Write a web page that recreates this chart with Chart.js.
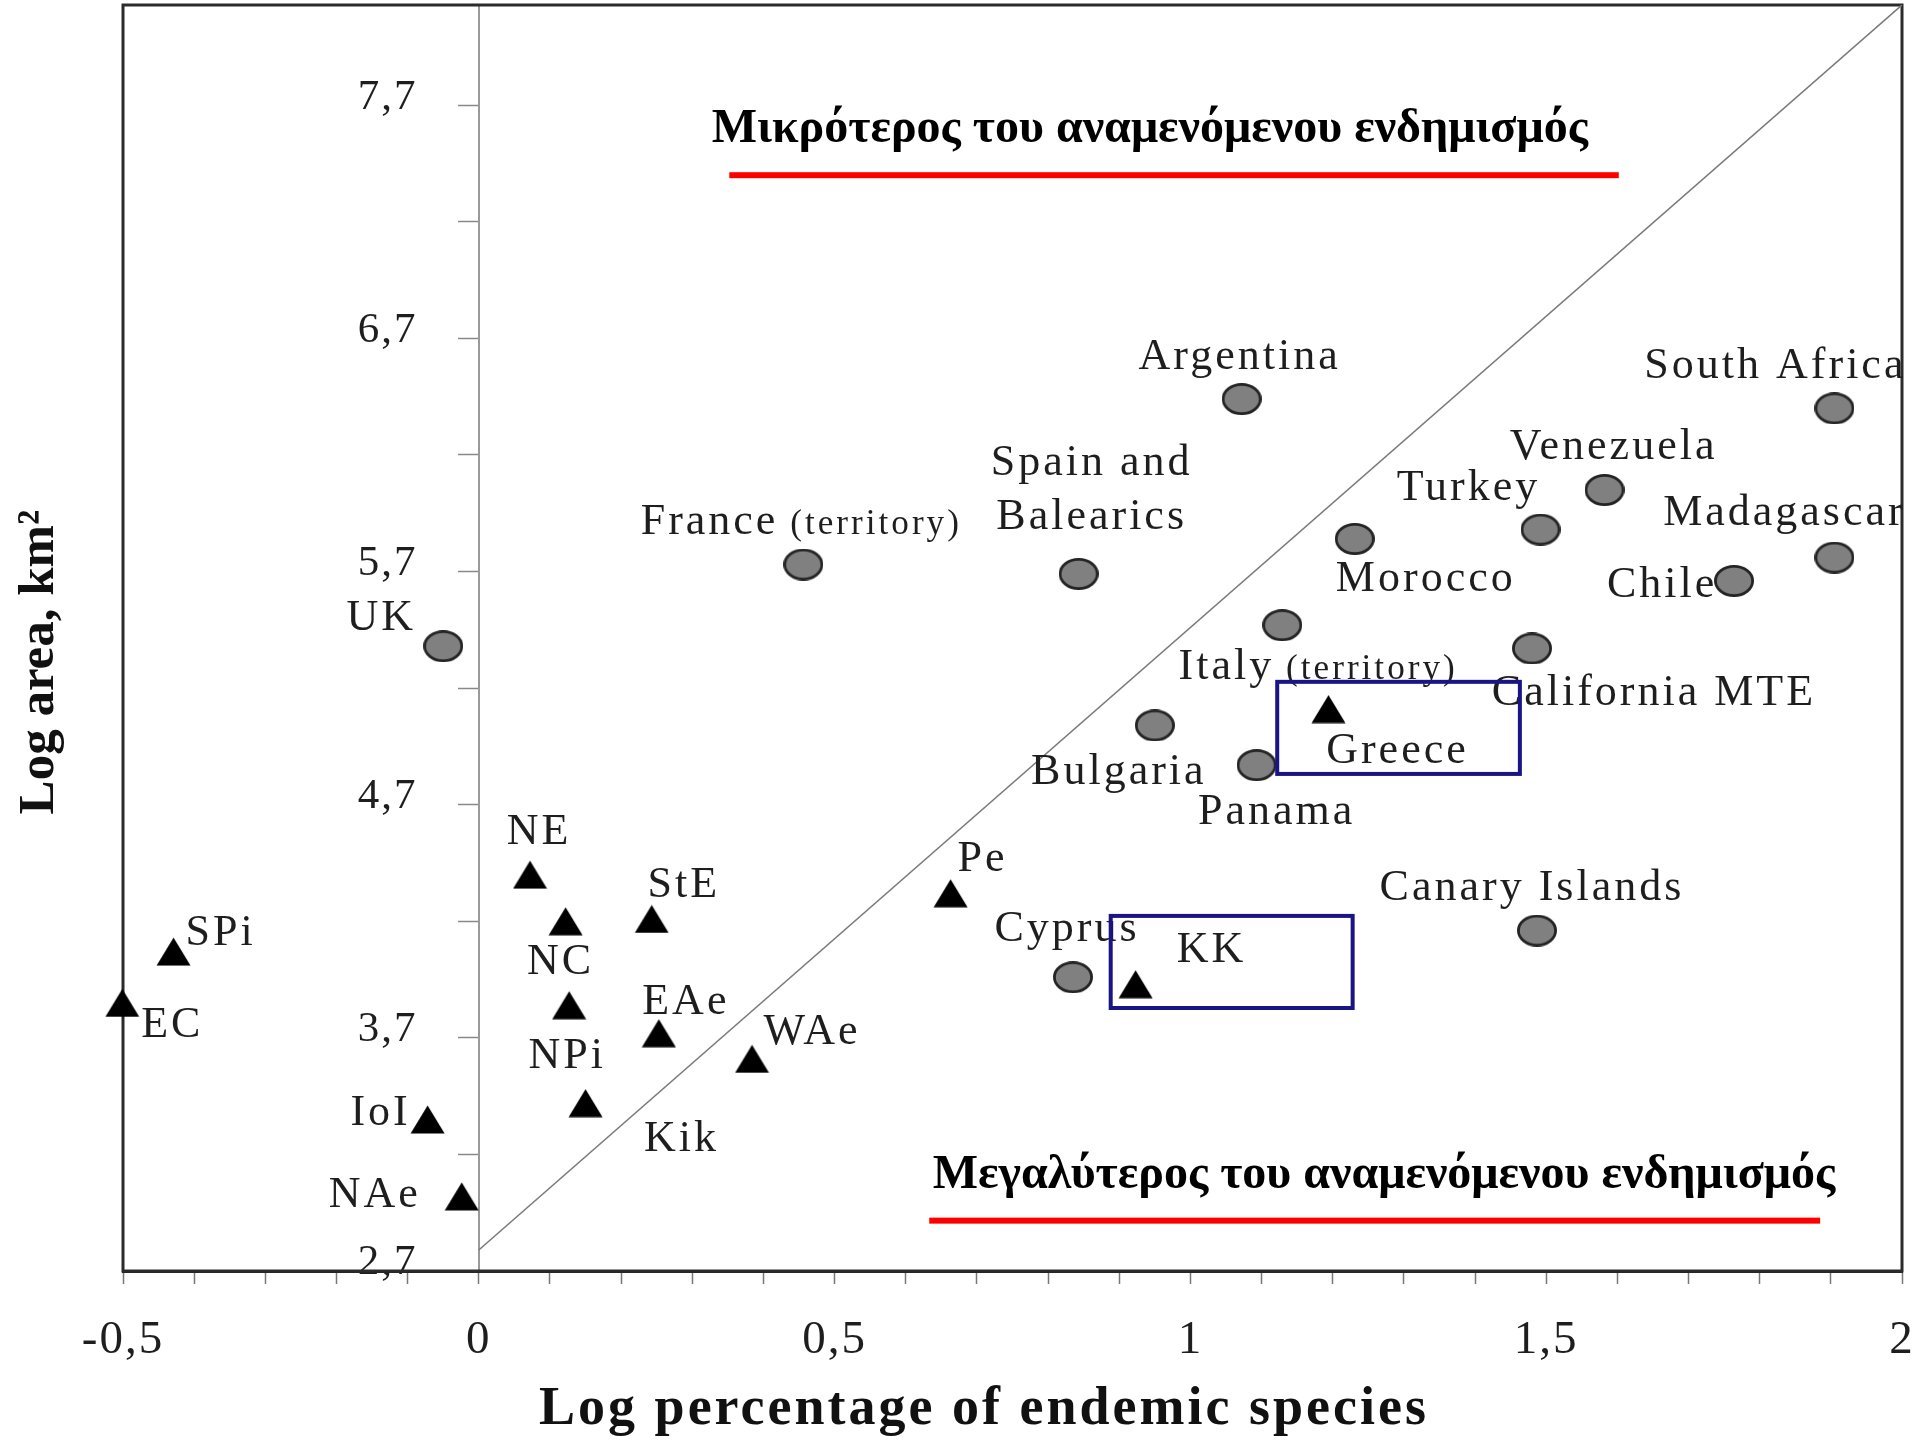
<!DOCTYPE html>
<html>
<head>
<meta charset="utf-8">
<script src="https://cdn.jsdelivr.net/npm/chart.js@4.4.1/dist/chart.umd.min.js"></script>
<style>
  html, body { margin: 0; padding: 0; background: #fff; }
  canvas { display: block; }
</style>
</head>
<body>
<canvas id="chart" width="1920" height="1440"></canvas>
<script>
// Regions of the world (grey circles)
const regionNames = ['Argentina', 'South Africa', 'Venezuela', 'Turkey', 'Morocco', 'Madagascar', 'Chile',
  'Spain and Balearics', 'France (territory)', 'UK', 'Italy (territory)', 'California MTE', 'Bulgaria',
  'Panama', 'Canary Islands', 'Cyprus'];
const regionLogEndemic = [1.072, 1.905, 1.582, 1.492, 1.231, 1.905, 1.764, 0.843, 0.456, -0.050, 1.129,
  1.480, 0.950, 1.093, 1.487, 0.835];
const regionLogArea = [6.44, 6.40, 6.05, 5.88, 5.84, 5.76, 5.66, 5.69, 5.73, 5.38, 5.47, 5.37, 5.04,
  4.87, 4.16, 3.96];

// Greek areas (black triangles)
const areaNames = ['Greece', 'KK', 'Pe', 'NE', 'NC', 'StE', 'SPi', 'EC', 'NPi', 'EAe', 'WAe', 'Kik', 'IoI', 'NAe'];
const areaLogEndemic = [1.194, 0.923, 0.663, 0.072, 0.122, 0.243, -0.429, -0.501, 0.127, 0.253, 0.384,
  0.150, -0.072, -0.024];
const areaLogArea = [5.11, 3.93, 4.32, 4.40, 4.20, 4.21, 4.07, 3.85, 3.84, 3.72, 3.61, 3.42, 3.35, 3.02];

// Expected-endemism line
const diagonalX = [0, 2];
const diagonalY = [2.79, 8.13];

// Axis ticks
const xTickValues = [-0.5, -0.4, -0.3, -0.2, -0.1, 0, 0.1, 0.2, 0.3, 0.4, 0.5, 0.6, 0.7, 0.8, 0.9, 1,
  1.1, 1.2, 1.3, 1.4, 1.5, 1.6, 1.7, 1.8, 1.9, 2];
const xLabelValues = [-0.5, 0, 0.5, 1, 1.5, 2];
const xLabelTexts = ['-0,5', '0', '0,5', '1', '1,5', '2'];
const yTickValues = [2.7, 3.2, 3.7, 4.2, 4.7, 5.2, 5.7, 6.2, 6.7, 7.2, 7.7];
const yLabelValues = [2.7, 3.7, 4.7, 5.7, 6.7, 7.7];
const yLabelTexts = ['2,7', '3,7', '4,7', '5,7', '6,7', '7,7'];

// Texts
const xTitle = 'Log percentage of endemic species';
const yTitle = 'Log area, km²';
const noteAbove = 'Μικρότερος του αναμενόμενου ενδημισμός';
const noteBelow = 'Μεγαλύτερος του αναμενόμενου ενδημισμός';

// ---- layout & style (pixels / data anchors) ----
const SERIF = '"Liberation Serif", "Times New Roman", serif';
const LABEL_SIZE = 44;
// the value axis sits at x = 0, so its labels are pushed left with trailing spacing
const Y_LABEL_GAP = '\u2003\u2009\u200A';

// label centre offsets from the marker, in px
const labelPlacement = {
  'Argentina': { dx: -2, dy: -45 },
  'South Africa': { dx: -59, dy: -45 },
  'Venezuela': { dx: 9, dy: -45 },
  'Turkey': { dx: -72, dy: -44 },
  'Morocco': { dx: 71, dy: 38 },
  'Madagascar': { dx: -50, dy: -47 },
  'Chile': { dx: -72, dy: 2 },
  'Spain and Balearics': { lines: [{ text: 'Spain and', dx: 13, dy: -113 }, { text: 'Balearics', dx: 13, dy: -59 }] },
  'France (territory)': { dx: -2, dy: -45, runs: [['France', 1], [' (territory)', 0.8]] },
  'UK': { dx: -62, dy: -31 },
  'Italy (territory)': { dx: 36, dy: 39, runs: [['Italy', 1], [' (territory)', 0.8]] },
  'California MTE': { dx: 122, dy: 42 },
  'Bulgaria': { dx: -36, dy: 44 },
  'Panama': { dx: 20, dy: 44 },
  'Canary Islands': { dx: -5, dy: -45 },
  'Cyprus': { dx: -6, dy: -51 },
  'Greece': { dx: 69, dy: 39 },
  'KK': { dx: 76, dy: -37 },
  'Pe': { dx: 32, dy: -37 },
  'NE': { dx: 9, dy: -45 },
  'NC': { dx: -5, dy: 38 },
  'StE': { dx: 32, dy: -36 },
  'SPi': { dx: 47, dy: -21 },
  'EC': { dx: 50, dy: 20 },
  'NPi': { dx: -2, dy: 48 },
  'EAe': { dx: 27, dy: -34 },
  'WAe': { dx: 60, dy: -29 },
  'Kik': { dx: 96, dy: 33 },
  'IoI': { dx: -47, dy: -9 },
  'NAe': { dx: -87, dy: -4 }
};

// highlight frames, in data units
const highlightFrames = [
  { x0: 1.122, x1: 1.463, y0: 4.832, y1: 5.227 },
  { x0: 0.888, x1: 1.228, y0: 3.828, y1: 4.223 }
];

// side notes with red underline, anchored in data units
const notes = [
  { text: noteAbove, cx: 0.943, cy: 7.611, lx0: 0.352, lx1: 1.602, ly: 7.40 },
  { text: noteBelow, cx: 1.272, cy: 3.126, lx0: 0.633, lx1: 1.885, ly: 2.916 }
];

function near(a, b) { return Math.abs(a - b) < 1e-9; }

// marker sprites used as point styles
function ellipseSprite(w, h, fill, stroke, lw) {
  const c = document.createElement('canvas');
  c.width = w; c.height = h;
  const g = c.getContext('2d');
  g.beginPath();
  g.ellipse(w / 2, h / 2, w / 2 - lw / 2, h / 2 - lw / 2, 0, 0, Math.PI * 2);
  g.fillStyle = fill; g.fill();
  g.lineWidth = lw; g.strokeStyle = stroke; g.stroke();
  return c;
}
function triangleSprite(w, h, fill) {
  const c = document.createElement('canvas');
  c.width = w; c.height = h;
  const g = c.getContext('2d');
  g.beginPath();
  g.moveTo(w / 2, 0.5); g.lineTo(w - 0.5, h - 0.5); g.lineTo(0.5, h - 0.5); g.closePath();
  g.fillStyle = fill; g.fill();
  return c;
}
const circleMarker = ellipseSprite(40, 32, '#808080', '#242424', 2.8);
const triangleMarker = triangleSprite(35, 29, '#000');

function drawRuns(ctx, runs, cx, cy, size) {
  const widths = runs.map(([t, s]) => { ctx.font = `${size * s}px ${SERIF}`; return ctx.measureText(t).width; });
  const total = widths.reduce((a, b) => a + b, 0);
  let x = cx - total / 2;
  const base = cy + size * 0.33;
  ctx.textAlign = 'left';
  ctx.textBaseline = 'alphabetic';
  runs.forEach(([t, s], i) => {
    ctx.font = `${size * s}px ${SERIF}`;
    ctx.fillText(t, x, base);
    x += widths[i];
  });
}

const framePlugin = {
  id: 'plotFrame',
  beforeDraw(chart) { chart.ctx.letterSpacing = '2px'; },
  beforeDatasetsDraw(chart) {
    const { ctx, chartArea: a } = chart;
    ctx.save();
    ctx.strokeStyle = '#2b2b2b';
    ctx.lineWidth = 3;
    ctx.strokeRect(a.left, a.top, a.right - a.left, a.bottom - a.top);
    ctx.restore();
  }
};

const annotationPlugin = {
  id: 'annotations',
  afterDatasetsDraw(chart) {
    const { ctx, scales: { x, y } } = chart;
    ctx.save();
    ctx.letterSpacing = '3px';
    ctx.fillStyle = '#1e1e1e';
    // marker labels
    chart.data.datasets.forEach((ds, di) => {
      if (!ds.names) return;
      const meta = chart.getDatasetMeta(di);
      meta.data.forEach((el, i) => {
        const p = labelPlacement[ds.names[i]];
        if (!p) return;
        if (p.lines) {
          p.lines.forEach(l => drawRuns(ctx, [[l.text, 1]], el.x + l.dx, el.y + l.dy, LABEL_SIZE));
        } else {
          drawRuns(ctx, p.runs || [[ds.names[i], 1]], el.x + p.dx, el.y + p.dy, LABEL_SIZE);
        }
      });
    });
    // notes with underline
    ctx.letterSpacing = '0px';
    notes.forEach(n => {
      ctx.font = `bold 48px ${SERIF}`;
      ctx.fillStyle = '#000';
      ctx.textAlign = 'center';
      ctx.textBaseline = 'alphabetic';
      ctx.fillText(n.text, x.getPixelForValue(n.cx), y.getPixelForValue(n.cy) + 16);
      ctx.fillStyle = '#ff0000';
      const ly = y.getPixelForValue(n.ly);
      const lx0 = x.getPixelForValue(n.lx0), lx1 = x.getPixelForValue(n.lx1);
      ctx.fillRect(lx0, ly - 3, lx1 - lx0, 6);
    });
    // highlight frames
    ctx.strokeStyle = '#1b1485';
    ctx.lineWidth = 4;
    highlightFrames.forEach(f => {
      const l = x.getPixelForValue(f.x0), r = x.getPixelForValue(f.x1);
      const t = y.getPixelForValue(f.y1), b = y.getPixelForValue(f.y0);
      ctx.strokeRect(l, t, r - l, b - t);
    });
    ctx.restore();
  },
  afterDraw(chart) {
    const { ctx } = chart;
    ctx.save();
    ctx.fillStyle = '#111';
    ctx.letterSpacing = '3px';
    ctx.font = `bold 54px ${SERIF}`;
    ctx.textAlign = 'center';
    ctx.textBaseline = 'alphabetic';
    ctx.fillText(xTitle, 984, 1424);
    ctx.letterSpacing = '0px';
    ctx.font = `bold 51px ${SERIF}`;
    ctx.translate(53, 662);
    ctx.rotate(-Math.PI / 2);
    ctx.fillText(yTitle, 0, 0);
    ctx.restore();
  }
};

new Chart(document.getElementById('chart'), {
  type: 'scatter',
  data: {
    datasets: [
      {
        label: 'expected',
        data: diagonalX.map((v, i) => ({ x: v, y: diagonalY[i] })),
        showLine: true,
        borderColor: '#7a7a7a',
        borderWidth: 1.6,
        pointRadius: 0,
        fill: false
      },
      {
        label: 'regions',
        names: regionNames,
        data: regionLogEndemic.map((v, i) => ({ x: v, y: regionLogArea[i] })),
        pointStyle: circleMarker,
        pointRadius: 18,
        clip: false
      },
      {
        label: 'areas',
        names: areaNames,
        data: areaLogEndemic.map((v, i) => ({ x: v, y: areaLogArea[i] })),
        pointStyle: triangleMarker,
        pointRadius: 17,
        clip: false
      }
    ]
  },
  options: {
    responsive: false,
    animation: false,
    events: [],
    layout: { autoPadding: false, padding: { left: 123, right: 18, top: 5, bottom: 0 } },
    plugins: { legend: { display: false }, tooltip: { enabled: false } },
    scales: {
      x: {
        type: 'linear',
        position: 'bottom',
        min: -0.5,
        max: 2,
        afterBuildTicks: s => { s.ticks = xTickValues.map(v => ({ value: v })); },
        afterFit: s => { s.height = 169; s.paddingLeft = 0; s.paddingRight = 0; },
        ticks: {
          autoSkip: false, maxRotation: 0, minRotation: 0, padding: 28, color: '#1e1e1e',
          font: { family: SERIF, size: 47 },
          callback: v => { const k = xLabelValues.findIndex(l => near(l, v)); return k >= 0 ? xLabelTexts[k] : ''; }
        },
        grid: { drawOnChartArea: false, drawTicks: true, tickLength: 13, tickColor: '#777', tickWidth: 1.5 },
        border: { display: true, color: '#222', width: 3 }
      },
      y: {
        type: 'linear',
        position: { x: 0 },
        min: 2.7,
        max: 8.13,
        afterBuildTicks: s => { s.ticks = yTickValues.map(v => ({ value: v })); },
        afterFit: s => { s.paddingTop = 0; s.paddingBottom = 0; },
        ticks: {
          autoSkip: false, padding: 42, labelOffset: -8, color: '#1e1e1e',
          font: { family: SERIF, size: 43 },
          callback: v => { const k = yLabelValues.findIndex(l => near(l, v)); return k >= 0 ? yLabelTexts[k] + Y_LABEL_GAP : ''; }
        },
        grid: { drawOnChartArea: false, drawTicks: true, tickLength: 20, tickColor: '#888', tickWidth: 1.5 },
        border: { display: true, color: '#9a9a9a', width: 2 }
      }
    }
  },
  plugins: [framePlugin, annotationPlugin]
});
</script>
</body>
</html>
